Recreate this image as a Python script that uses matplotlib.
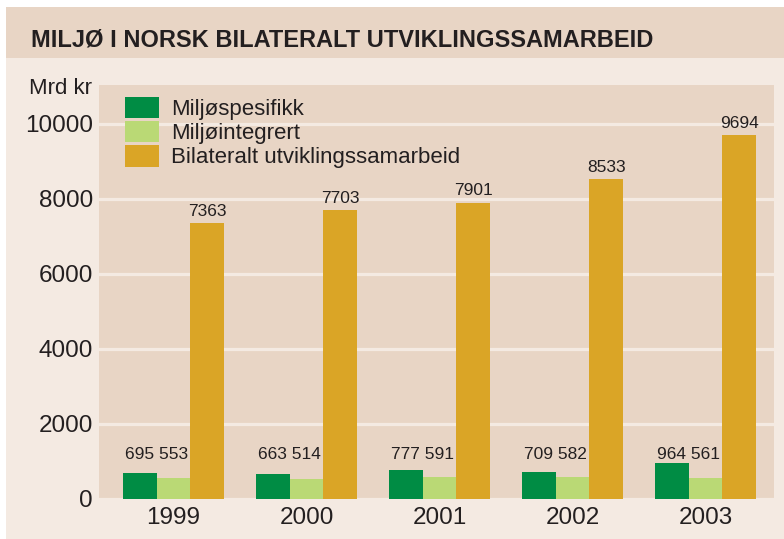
import numpy as np
import matplotlib
matplotlib.use("Agg")
import matplotlib.pyplot as plt
import matplotlib.patches as ptc

plt.rcParams['font.family'] = ['Liberation Sans', 'DejaVu Sans']

years = ["1999", "2000", "2001", "2002", "2003"]
miljo_spesifikk = [695, 663, 777, 709, 964]
miljo_integrert = [553, 514, 591, 582, 561]
bilateralt = [7363, 7703, 7901, 8533, 9694]
series_names = ["Miljøspesifikk", "Miljøintegrert", "Bilateralt utviklingssamarbeid"]

c_dark = "#008C44"
c_light = "#BAD975"
c_gold = "#DAA526"
band = "#E8D5C5"
pale = "#F4EAE2"
txt = "#231F20"

W, H = 784, 539
fig = plt.figure(figsize=(W/100, H/100), dpi=100, facecolor="white")

# background blocks
fig.patches.append(ptc.Rectangle((6/W, 0), 1, (H-7)/H, transform=fig.transFigure,
                                 facecolor=pale, edgecolor="none", zorder=-10))
fig.patches.append(ptc.Rectangle((6/W, (H-58)/H), 1, 51/H, transform=fig.transFigure,
                                 facecolor=band, edgecolor="none", zorder=-9))
fig.text(31/W, (H-40)/H, "MILJØ I NORSK BILATERALT UTVIKLINGSSAMARBEID",
         fontsize=17, fontweight="bold", color=txt, va="center", ha="left")

ax = fig.add_axes([99/W, 40.3/H, 675/W, 413.7/H])
ax.set_facecolor(band)
for s in ax.spines.values():
    s.set_visible(False)

x = np.arange(len(years))
w = 0.254
ax.bar(x - w, miljo_spesifikk, w, color=c_dark, label=series_names[0], zorder=3)
ax.bar(x, miljo_integrert, w, color=c_light, label=series_names[1], zorder=3)
ax.bar(x + w, bilateralt, w, color=c_gold, label=series_names[2], zorder=3)

for i in range(len(years)):
    ax.text(x[i] - w/2, 980, f"{miljo_spesifikk[i]} {miljo_integrert[i]}",
            ha="center", va="bottom", fontsize=12.5, color=txt)
    ax.annotate(str(bilateralt[i]), (x[i] + w, bilateralt[i]), xytext=(0, 3),
                textcoords="offset points", ha="center", va="bottom",
                fontsize=12.5, color=txt)

ax.set_xlim(-0.56, 4.515)
ax.set_ylim(0, 11040)
ax.set_yticks(range(0, 10001, 2000))
ax.set_xticks(x)
ax.set_xticklabels(years)
ax.tick_params(length=0, labelsize=17.5, labelcolor=txt)
ax.tick_params(axis="y", pad=4.3)
ax.tick_params(axis="x", pad=6)
ax.yaxis.grid(True, color=pale, linewidth=2.3, zorder=1)
ax.set_axisbelow(True)

fig.text(92/W, (H-88)/H, "Mrd kr", fontsize=16, color=txt, ha="right", va="center")

ax.legend(loc="upper left", bbox_to_anchor=(0.0385, 0.972), frameon=False,
          fontsize=16, handlelength=1.53, handleheight=1.1, handletextpad=0.54,
          labelspacing=0.05, borderpad=0, borderaxespad=0, labelcolor=txt)

fig.savefig("out.png", dpi=100, facecolor=fig.get_facecolor())
